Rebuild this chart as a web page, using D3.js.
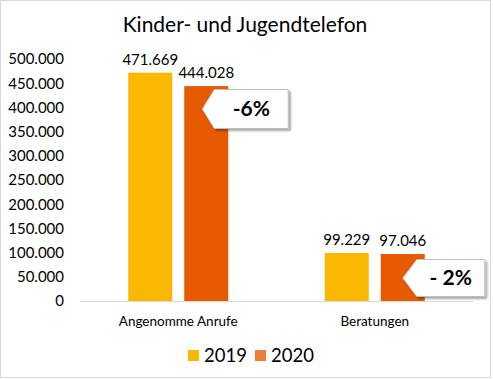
<!DOCTYPE html>
<html><head><meta charset="utf-8">
<script src="https://cdn.jsdelivr.net/npm/d3@7"></script>
<style>body{margin:0;background:#fff}svg{display:block}text{font-family:Lato,"Open Sans",sans-serif}</style>
</head><body>
<svg id="c" width="493" height="379"></svg>
<script>
const categories = ["Angenomme Anrufe", "Beratungen"];
const seriesNames = ["2019", "2020"];
const values2019 = [471669, 99229];
const values2020 = [444028, 97046];
const labels2019 = ["471.669", "99.229"];
const labels2020 = ["444.028", "97.046"];
const changeLabels = ["-6%", "- 2%"];
const yTicks = [0, 50000, 100000, 150000, 200000, 250000, 300000, 350000, 400000, 450000, 500000];
const colors = ["#FBB800", "#E85A00"];
const legendColors = ["#FBB800", "#EF7D33"];

const svg = d3.select("#c");
svg.append("rect").attr("x",0.5).attr("y",0.5).attr("width",490).attr("height",377)
  .attr("fill","#fff").attr("stroke","#d9d9d9");

svg.append("text").attr("x",245).attr("y",32).attr("text-anchor","middle")
  .attr("font-size",21).attr("fill","#000").text("Kinder- und Jugendtelefon");

const x0 = d3.scaleBand().domain(categories).range([80,473]);
const y = d3.scaleLinear().domain([0,500000]).range([301,59]);
const fmt = v => d3.format(",")(v).replace(/,/g,".");

const yAxis = svg.append("g").attr("transform","translate(70,0)")
  .call(d3.axisLeft(y).tickValues(yTicks).tickFormat(fmt).tickSize(0).tickPadding(6));
yAxis.select(".domain").remove();
yAxis.selectAll("text").attr("font-size",15).attr("fill","#000").style("font-family","Lato,sans-serif");

svg.append("line").attr("x1",80).attr("x2",473).attr("y1",301.5).attr("y2",301.5).attr("stroke","#d9d9d9");

const series = [values2019, values2020];
const labels = [labels2019, labels2020];
const barW = 44, gap = 12;
const x1 = d3.scaleOrdinal().domain(seriesNames).range([-(gap/2+barW), gap/2]);

series.forEach((vals, si) => {
  categories.forEach((c, ci) => {
    const cx = x0(c) + x0.bandwidth()/2 + x1(seriesNames[si]);
    svg.append("rect").attr("x",cx).attr("y",y(vals[ci])).attr("width",barW)
      .attr("height",y(0)-y(vals[ci])).attr("fill",colors[si]);
    svg.append("text").attr("x",cx+barW/2).attr("y",y(vals[ci])-8).attr("text-anchor","middle")
      .attr("font-size",15).attr("fill","#000").text(labels[si][ci]);
  });
});

// callouts
const defs = svg.append("defs");
const f = defs.append("filter").attr("id","sh").attr("x","-20%").attr("y","-20%").attr("width","150%").attr("height","150%");
f.append("feDropShadow").attr("dx",2).attr("dy",2).attr("stdDeviation",1.2).attr("flood-color","#000").attr("flood-opacity",0.35);

const calloutLayout = [{off:18, depth:12, w:74, h:39, ty:109}, {off:22, depth:14, w:68, h:37, ty:278}];
categories.forEach((c, ci) => {
  const L = calloutLayout[ci];
  const bx = x0(c) + x0.bandwidth()/2 + x1(seriesNames[1]);
  const tipX = bx + L.off;
  const tipY = L.ty;
  const left = tipX + L.depth, w = L.w, h = L.h;
  const top = tipY - h/2;
  const p = d3.path();
  p.moveTo(left, top); p.lineTo(left+w, top); p.lineTo(left+w, top+h); p.lineTo(left, top+h);
  p.lineTo(tipX, tipY); p.closePath();
  svg.append("path").attr("d", p.toString()).attr("fill","#fff").attr("stroke","#bfbfbf")
    .attr("stroke-width",1).attr("filter","url(#sh)");
  svg.append("text").attr("x", left + w/2).attr("y", tipY+7).attr("text-anchor","middle")
    .attr("font-size",21).attr("font-weight","bold").attr("fill","#000").text(changeLabels[ci]);
});

// category labels
categories.forEach(c => {
  svg.append("text").attr("x", x0(c)+x0.bandwidth()/2).attr("y",326).attr("text-anchor","middle")
    .attr("font-size",13.5).attr("fill","#000").text(c);
});

// legend
const legX = [188, 255];
seriesNames.forEach((s, i) => {
  svg.append("rect").attr("x",legX[i]).attr("y",350).attr("width",11).attr("height",11).attr("fill",legendColors[i]);
  svg.append("text").attr("x",legX[i]+16).attr("y",361.5).attr("font-size",18.5).attr("fill","#000").text(s);
});
</script>
</body></html>
